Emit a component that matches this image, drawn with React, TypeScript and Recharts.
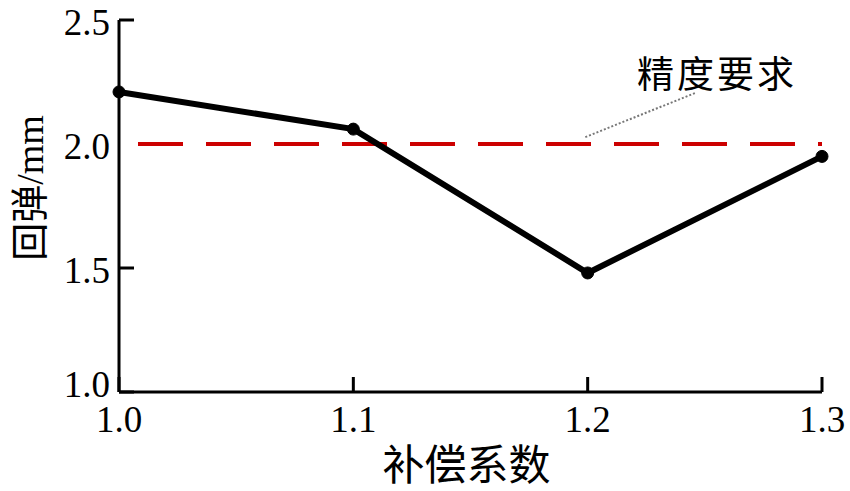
import React from 'react';
import {
    LineChart,
    Line,
    XAxis,
    YAxis,
    ReferenceLine,
    ReferenceDot,
    Label
} from 'recharts';

const coefficients = [1.0, 1.1, 1.2, 1.3];
const springback = [2.21, 2.06, 1.48, 1.95];
const xTicks = [1.0, 1.1, 1.2, 1.3];
const yTicks = [1.0, 1.5, 2.0, 2.5];
const requirement = 2.0;
const requirementLabel = '精度要求';
const xTitle = '补偿系数';
const yTitle = '回弹/mm';

const data = coefficients.map((c, i) => ({ c, v: springback[i] }));

const FONT = '"Liberation Serif", "Times New Roman", "Noto Sans CJK SC", serif';
const CJK = '"Noto Sans CJK SC", sans-serif';

// ticks point inwards, labels sit outside
const XTick = ({ x, y, payload }: any) => (
    <g>
        <line x1={x} y1={y} x2={x} y2={y - 15} stroke="#000" strokeWidth={3} />
        <text x={x} y={y + 40} textAnchor="middle" fontSize={37} fontFamily={FONT} fill="#000">
            {payload.value.toFixed(1)}
        </text>
    </g>
);

// the original has no tick mark at 2.0 (it sits under the requirement line)
const YTick = ({ x, y, payload }: any) => (
    <g>
        {payload.value !== requirement && (
            <line x1={x} y1={y} x2={x + 15} y2={y} stroke="#000" strokeWidth={3} />
        )}
        <text
            x={x - 9}
            y={payload.value === 1 ? y + 5 : y + 15}
            textAnchor="end"
            fontSize={37}
            fontFamily={FONT}
            fill="#000"
        >
            {payload.value.toFixed(1)}
        </text>
    </g>
);

const XTitle = ({ viewBox }: any) => (
    <text
        x={viewBox.x + viewBox.width / 2 - 4}
        y={480}
        textAnchor="middle"
        fontSize={42}
        fontFamily={CJK}
        fill="#000"
    >
        {xTitle}
    </text>
);

const YTitle = ({ viewBox }: any) => {
    const cx = 30;
    const cy = viewBox.y + viewBox.height / 2 - 18;
    return (
        <text
            x={cx}
            y={cy}
            transform={`rotate(-90, ${cx}, ${cy})`}
            textAnchor="middle"
            dominantBaseline="central"
            fontSize={38}
            fontFamily={FONT}
            fill="#000"
        >
            {yTitle}
        </text>
    );
};

export default function App() {
    return (
        <div style={{ position: 'absolute', left: 0, top: 0, width: 850, height: 491, background: '#fff' }}>
            <LineChart width={850} height={491} data={data} margin={{ top: 20, right: 28, bottom: 0, left: 0 }}>
                <XAxis
                    dataKey="c"
                    type="number"
                    domain={[1.0, 1.3]}
                    ticks={xTicks}
                    height={99}
                    tickSize={0}
                    tickMargin={0}
                    tickLine={false}
                    axisLine={{ stroke: '#000', strokeWidth: 3 }}
                    tick={<XTick />}
                    interval={0}
                >
                    <Label content={<XTitle />} />
                </XAxis>
                <YAxis
                    type="number"
                    domain={[1.0, 2.5]}
                    ticks={yTicks}
                    width={119}
                    tickSize={0}
                    tickMargin={0}
                    tickLine={false}
                    axisLine={{ stroke: '#000', strokeWidth: 3 }}
                    tick={<YTick />}
                    interval={0}
                >
                    <Label content={<YTitle />} />
                </YAxis>
                <ReferenceLine
                    y={requirement}
                    stroke="#cc0000"
                    strokeWidth={4}
                    strokeDasharray="45 23"
                    strokeDashoffset={49}
                />
                <ReferenceLine
                    segment={[{ x: 1.199, y: 2.028 }, { x: 1.246, y: 2.206 }]}
                    stroke="#777"
                    strokeWidth={2}
                    strokeDasharray="2 2"
                />
                <ReferenceDot
                    x={1.2552}
                    y={2.29}
                    r={0}
                    shape={(p: any) => (
                        <text
                            x={p.cx}
                            y={p.cy}
                            textAnchor="middle"
                            dominantBaseline="central"
                            fontSize={37}
                            letterSpacing={3}
                            fontFamily={CJK}
                            fill="#000"
                        >
                            {requirementLabel}
                        </text>
                    )}
                />
                <Line
                    type="linear"
                    dataKey="v"
                    stroke="#000"
                    strokeWidth={6}
                    dot={{ r: 6, fill: '#000', stroke: '#000', strokeWidth: 1 }}
                    isAnimationActive={false}
                />
            </LineChart>
        </div>
    );
}
